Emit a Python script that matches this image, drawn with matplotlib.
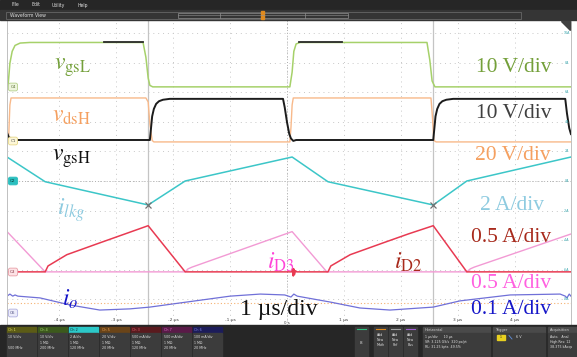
import matplotlib
matplotlib.use("Agg")
import matplotlib.pyplot as plt
from matplotlib.patches import Rectangle, Polygon

plt.rcParams['mathtext.fontset'] = 'stix'
plt.rcParams['font.family'] = ['Liberation Serif', 'DejaVu Sans']

# ---- waveform data (time in us, values in V / A) ----
vgsL_t = [-4.92, -4.90, -4.87, -4.83, -4.78, -4.69, -4.52, -2.53, -2.48, -2.44, -2.41, -2.36,
          0.05, 0.09, 0.12, 0.16, 0.23, 2.46, 2.51, 2.55, 2.60, 4.99]
vgsL_v = [0, 1, 8, 12, 14, 14.8, 15, 15, 10, 3, 0.5, 0,
          0, 5, 12, 14.5, 15, 15, 9, 2, 0, 0]
# dark trace segments lying on top of vgsL high level
overlay_t = [[-3.22, -2.53], [0.21, 0.97]]
overlay_v = [[15.1, 15.1], [15.1, 15.1]]

vdsH_t = [-4.92, -4.89, -4.87, -4.85, -2.48, -2.44, -2.41, -2.37, -2.34,
          0.05, 0.07, 0.09, 0.11, 2.53, 2.55, 2.57, 2.58, 2.62, 4.99]
vdsH_v = [0, 5, 25, 29.7, 29.7, 27, 12, 1, 0,
          0, 10, 25, 29.7, 29.7, 20, 8, 1, 0, 0]

vgsH_t = [-4.92, -4.89, -4.83, -4.80, -2.41, -2.39, -2.37, -2.34, -2.30, -2.25, -2.18, -2.06,
          -0.07, -0.04, 0.00, 0.04, 0.07, 0.11, 0.16, 2.57, 2.59, 2.61, 2.64, 2.68, 2.73, 2.80,
          2.92, 4.89, 4.92, 4.96, 4.99]
vgsH_v = [2.4, 1.0, 0.2, 0, 0, 4, 8, 10.5, 12.2, 13.1, 13.6, 13.9,
          13.9, 11, 6, 2, 0.5, -0.3, 0, 0, 4, 8, 10.5, 12.2, 13.1, 13.6,
          13.9, 13.9, 9, 4, 2]

ilkg_t = [-4.92, -4.25, -2.44, -1.79, 0.09, 0.72, 2.57, 3.16, 4.99]
ilkg_v = [1.62, -0.05, -1.62, 0.0, 1.62, -0.05, -1.62, 0.0, 1.62]

iD2_t = [-4.92, -4.25, -4.20, -3.87, -3.29, -2.85, -2.44, -1.79,
         0.08, 0.10, 0.11, 0.12, 0.13, 0.15, 0.17,
         0.72, 0.77, 1.11, 1.69, 2.13, 2.57, 3.16, 4.99]
iD2_v = [0, 0, 0.10, 0.29, 0.49, 0.64, 0.78, 0,
         0, 0.06, -0.07, 0.05, -0.05, 0.02, 0,
         0, 0.10, 0.29, 0.49, 0.64, 0.78, 0, 0]

iD3_t = [-4.92, -4.25, -1.79, -1.74, -1.67, 0.09, 0.70, 3.16, 3.22, 3.29, 4.99]
iD3_v = [0.68, 0, 0, 0.05, 0.08, 0.68, 0, 0, 0.05, 0.08, 0.64]

io_t = [-4.92, -4.87, -4.82, -4.78, -4.73, -4.34, -3.81, -3.29, -2.76, -2.41, -1.88,
        -1.00, -0.47, -0.04, 0.07, 0.12, 0.18, 0.76, 1.28, 1.81, 2.57, 3.04, 3.92,
        4.80, 4.89, 4.92, 4.96, 4.99]
io_v = [0.057, 0.064, 0.057, 0.061, 0.057, 0.051, 0.027, 0.010, 0.014, 0.020, 0.034,
        0.057, 0.064, 0.061, 0.054, 0.064, 0.057, 0.037, 0.017, 0.010, 0.020, 0.041, 0.061,
        0.064, 0.057, 0.051, 0.064, 0.057]

time_ticks = [-4, -3, -2, -1, 0, 1, 2, 3, 4]
time_tick_labels = ['-4 µs', '-3 µs', '-2 µs', '-1 µs', '0 s', '1 µs', '2 µs', '3 µs', '4 µs']
cursor_t = [-2.44, 2.57]

# channel settings: (offset in divisions, units per division)
ch_vgsL = (3.18, 10)
ch_vdsH = (1.32, 20)
ch_vgsH = (1.385, 10)
ch_ilkg = (0.0, 2)
ch_iD2 = (-3.07, 0.5)
ch_iD3 = (-3.07, 0.5)
ch_io = (-4.46, 0.1)


def to_div(vals, ch):
    off, sc = ch
    return [off + v / sc for v in vals]


W, H = 577, 357
fig = plt.figure(figsize=(W / 100, H / 100), dpi=100)
fig.patch.set_facecolor('white')

# main waveform area (pixel 7..571 x 20..325)
ax = fig.add_axes([7 / W, 1 - 325 / H, 564 / W, 305 / H], zorder=2)
ax.set_xlim(-4.921, 4.991)
ax.set_ylim(-4.865, 5.439)
ax.set_xticks(time_ticks)
ax.set_yticks(range(-4, 6))
ax.tick_params(length=0, labelbottom=False, labelleft=False)
ax.grid(True, color='#c8c8c8', linestyle=(0, (1, 4)), linewidth=0.7)
for s in ax.spines.values():
    s.set_color('#c0c0c0')
    s.set_linewidth(0.7)

ax.axhline(0, color='#b0b0b0', linestyle=(0, (1, 2)), lw=0.7)
ax.axvline(0, color='#b0b0b0', linestyle=(0, (1, 2)), lw=0.7)
ax.axhline(-4.12, color='#f5b070', linestyle=(0, (1, 2)), lw=0.8)
for ct in cursor_t:
    ax.axvline(ct, color='#c4c4c4', lw=0.9)

ax.plot(vgsL_t, to_div(vgsL_v, ch_vgsL), color='#a6d16a', lw=1.1)
for ot, ov in zip(overlay_t, overlay_v):
    ax.plot(ot, to_div(ov, ch_vgsL), color='#2a2a2a', lw=1.3)
ax.plot(vdsH_t, to_div(vdsH_v, ch_vdsH), color='#f8b98a', lw=1.0)
ax.plot(vgsH_t, to_div(vgsH_v, ch_vgsH), color='#1c1c1c', lw=1.4)
ax.plot(ilkg_t, to_div(ilkg_v, ch_ilkg), color='#3cc6c8', lw=1.1)
ax.plot(iD3_t, to_div(iD3_v, ch_iD3), color='#f29ad4', lw=1.0)
ax.plot(iD2_t, to_div(iD2_v, ch_iD2), color='#e83a52', lw=1.1)
ax.plot(io_t, to_div(io_v, ch_io), color='#7070d8', lw=0.9)
ax.plot(cursor_t, to_div([-1.62, -1.62], ch_ilkg), linestyle='none', marker='x',
        color='#707070', ms=4, mew=0.9)

for tt, tl in zip(time_ticks, time_tick_labels):
    if tt == 0:
        continue
    ax.text(tt, -4.7, tl, fontsize=3.2, color='#404040', ha='center', va='center',
            family='DejaVu Sans')

# ---- UI chrome overlay in pixel coordinates ----
ui = fig.add_axes([0, 0, 1, 1], zorder=5)
ui.set_xlim(0, W)
ui.set_ylim(H, 0)
ui.axis('off')
ui.patch.set_alpha(0)

ui.add_patch(Rectangle((0, 0), W, 10, color='#262626'))
for x, s in zip([12, 31, 52, 77], ['File', 'Edit', 'Utility', 'Help']):
    ui.text(x, 5, s, fontsize=3.3, color='#dddddd', va='center', family='DejaVu Sans')
ui.add_patch(Rectangle((0, 10), W, 10, color='#353535'))
ui.add_patch(Rectangle((6, 11.5), 515, 7, fill=False, ec='#707070', lw=0.5))
ui.text(10, 15.2, 'Waveform View', fontsize=3.3, color='#e0e0e0', va='center', family='DejaVu Sans')
ui.add_patch(Rectangle((178, 12.5), 170, 5, fill=False, ec='#909090', lw=0.5))
for x in [220, 305]:
    ui.plot([x, x], [12.5, 17.5], color='#909090', lw=0.5)
ui.plot([178, 348], [15, 15], color='#909090', lw=0.4)
ui.add_patch(Rectangle((260.5, 11), 3.5, 8, color='#e08a1e'))
ui.add_patch(Polygon([[561, 21], [570, 21], [570, 30]], color='#404040'))

# channel reference tags on the left edge
tags = [('C4', 87, '#eef5dd', '#b5d08a', '#556b2f'),
        ('C1', 141, '#fdf7d8', '#e8d98a', '#555555'),
        ('C2', 181, '#2bbfbf', '#2bbfbf', '#0a3a3a'),
        ('C3', 272, '#fde3e6', '#e8a0a8', '#803040'),
        ('C6', 313, '#ececfa', '#b0b0e0', '#505080')]
for name, y, fc, ec, tc in tags:
    ui.text(13, y, name, fontsize=3.0, color=tc, ha='center', va='center', family='DejaVu Sans',
            bbox=dict(boxstyle='round,pad=0.45', fc=fc, ec=ec, lw=0.6))

# small scale readouts on the right edge
for k in range(-4, 6):
    y = 181 - k * 29.6
    ui.text(567, y, f'{2 * k}A', fontsize=2.3, color='#3aa8b0', ha='center', va='center',
            family='DejaVu Sans')

# trace labels
ui.text(54, 68, r'$v_{\mathrm{gsL}}$', fontsize=17, color='#74a03a', va='center')
ui.text(52, 117, r'$v_{\mathrm{dsH}}$', fontsize=17, color='#f5a060', va='center')
ui.text(52, 159, r'$v_{\mathrm{gsH}}$', fontsize=17, color='#111111', va='center')
ui.text(57, 210, r'$i_{lkg}$', fontsize=17, color='#8ecbe0', va='center')
ui.text(267, 262, r'$i_{\mathrm{D3}}$', fontsize=17, color='#ff45d8', va='center')
ui.text(394, 262, r'$i_{\mathrm{D2}}$', fontsize=17, color='#a82a1c', va='center')
ui.text(62, 299, r'$i_o$', fontsize=17, color='#1616c8', va='center')
ui.text(240, 309, '1 µs/div', fontsize=17, color='#111111', va='center')
# centre time readout, tucked just under the big label as on the screen
ui.text(287, 323.2, '0 s', fontsize=2.8, color='#404040', ha='center', va='center',
        family='DejaVu Sans')

div_labels = [(476, 68, '10 V/div', '#74a03a'),
              (476, 113, '10 V/div', '#404040'),
              (475, 155, '20 V/div', '#f5a060'),
              (480, 206, '2 A/div', '#8ecbe0'),
              (471, 238, '0.5 A/div', '#a82a1c'),
              (471, 283, '0.5 A/div', '#ff60e0'),
              (471, 310, '0.1 A/div', '#1616c8')]
for x, y, s, c in div_labels:
    ui.text(x, y, s, fontsize=15.5, color=c, va='center')

# bottom control panel
ui.add_patch(Rectangle((0, 325), W, 32, color='#262626'))
chans = [('Ch 1', '#5c5c16', '#e8e060', ['10 V/div', '', '500 MHz']),
         ('Ch 4', '#3c5a1c', '#a8d870', ['10 V/div', '1 MΩ', '200 MHz']),
         ('Ch 2', '#2cc8c8', '#0c3030', ['2 A/div', '1 MΩ', '120 MHz']),
         ('Ch 5', '#6a4418', '#f0a050', ['20 V/div', '1 MΩ', '20 MHz']),
         ('Ch 3', '#5a1a1e', '#e86070', ['500 mA/div', '1 MΩ', '120 MHz']),
         ('Ch 7', '#5a1a48', '#e070c8', ['500 mA/div', '1 MΩ', '20 MHz']),
         ('Ch 6', '#1c1c5a', '#8080e0', ['100 mA/div', '1 MΩ', '20 MHz'])]
for i, (name, hc, tc, lines) in enumerate(chans):
    x0 = 7 + 31 * i
    ui.add_patch(Rectangle((x0, 327), 29, 5.5, color=hc))
    ui.add_patch(Rectangle((x0, 332.5), 29, 24.5, color='#3c3c3c'))
    ui.text(x0 + 1.5, 329.8, name, fontsize=2.4, color=tc, va='center', family='DejaVu Sans')
    for j, ln in enumerate(lines):
        ui.text(x0 + 1.5, 337 + 5.5 * j, ln, fontsize=2.3, color='#e0e0e0', va='center',
                family='DejaVu Sans')

ui.add_patch(Rectangle((355, 327), 13, 30, color='#3c3c3c'))
ui.plot([357, 366], [329, 329], color='#30c080', lw=0.8)
ui.text(361.5, 343, '8', fontsize=3, color='#e0e0e0', ha='center', va='center', family='DejaVu Sans')
for k, (lbl, c) in enumerate(zip(['Math', 'Ref', 'Bus'], ['#e08a1e', '#a0a0a0', '#a060d0'])):
    x0 = 374 + 15 * k
    ui.add_patch(Rectangle((x0, 327), 13, 30, color='#3c3c3c'))
    ui.plot([x0 + 2, x0 + 11], [329, 329], color=c, lw=0.8)
    for j, s in enumerate(['Add', 'New', lbl]):
        ui.text(x0 + 6.5, 335 + 5 * j, s, fontsize=2.3, color='#e0e0e0', ha='center', va='center',
                family='DejaVu Sans')

panels = [(423, 67, 'Horizontal', ['1 µs/div      10 µs', 'SR: 3.125 GS/s  320 ps/pt',
                                    'RL: 31.25 kpts  49.5%']),
          (493, 52, 'Trigger', ['', '', '']),
          (548, 29, 'Acquisition', ['Auto,   Anal', 'High Res: 12', '38.375 kAcqs'])]
for x0, w, title, lines in panels:
    ui.add_patch(Rectangle((x0, 327), w, 6, color='#4a4a4a'))
    ui.add_patch(Rectangle((x0, 333), w, 24, color='#3c3c3c'))
    ui.text(x0 + 2, 330, title, fontsize=2.5, color='#d0d0d0', va='center', family='DejaVu Sans')
    for j, ln in enumerate(lines):
        ui.text(x0 + 2, 337 + 5 * j, ln, fontsize=2.3, color='#e0e0e0', va='center',
                family='DejaVu Sans')
ui.add_patch(Rectangle((497, 335), 8, 5, color='#e8d020'))
ui.text(501, 337.5, '1', fontsize=2.3, color='#222222', ha='center', va='center', family='DejaVu Sans')
ui.plot([509, 512], [335.5, 339], color='#6090e0', lw=0.6)
ui.text(516, 337.5, '6 V', fontsize=2.4, color='#e0e0e0', va='center', family='DejaVu Sans')

fig.savefig('out.png', dpi=100)
